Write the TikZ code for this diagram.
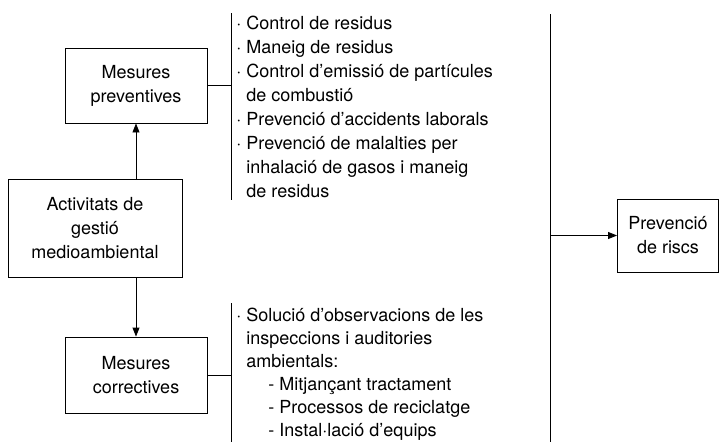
\documentclass[tikz,border=0pt]{standalone}
\usepackage{fontspec}
\setmainfont{TeX Gyre Heros}
\usetikzlibrary{arrows.meta}
\tikzset{
  boxnode/.style={draw,line width=0.9pt,align=center,inner sep=0pt},
  listtext/.style={anchor=north west,align=left,inner sep=0pt},
}
\begin{document}
\begin{tikzpicture}[x=1pt,y=-1pt,line width=0.9pt,>={Triangle[length=9pt,width=7pt]},
    font=\fontsize{18}{24}\selectfont]
    \useasboundingbox (0,0) rectangle (719,442);
    % boxes
    \node[boxnode,minimum width=142pt,minimum height=75pt] (prev) at (136,85.5) {Mesures\\preventives};
    \node[boxnode,minimum width=174pt,minimum height=98pt] (act) at (95,228) {Activitats de\\gestió\\medioambiental};
    \node[boxnode,minimum width=142pt,minimum height=76pt] (corr) at (136,375) {Mesures\\correctives};
    \node[boxnode,minimum width=101pt,minimum height=73pt] (risc) at (668,235.5) {Prevenció\\de riscs};
    % bracket lines
    \coordinate (ptop) at (231,13);
    \coordinate (pbot) at (231,200);
    \coordinate (ctop) at (231,303);
    \coordinate (cbot) at (231,442);
    \coordinate (rtop) at (550,14);
    \coordinate (rbot) at (550,442);
    \draw (ptop) -- (pbot);
    \draw (ctop) -- (cbot);
    \draw (rtop) -- (rbot);
    % connectors
    \draw[->] (act.north -| prev.south) -- (prev.south);
    \draw[->] (act.south -| corr.north) -- (corr.north);
    \draw (prev.east) -- (prev.east -| ptop);
    \draw (corr.east) -- (corr.east -| ctop);
    \draw[->] (risc.west -| rtop) -- (risc.west);
    % lists
    \node[listtext] (prevlist) at (236,16) {· Control de residus\\
      · Maneig de residus\\
      · Control d’emissió de partícules\\
      \phantom{· }de combustió\\
      · Prevenció d’accidents laborals\\
      · Prevenció de malalties per\\
      \phantom{· }inhalació de gasos i maneig\\
      \phantom{· }de residus};
    \node[listtext,font=\fontsize{18}{23}\selectfont] (corrlist) at (236,308) {· Solució d’observacions de les\\
      \phantom{· }inspeccions i auditories\\
      \phantom{· }ambientals:\\
      \hspace*{32pt}- Mitjançant tractament\\
      \hspace*{32pt}- Processos de reciclatge\\
      \hspace*{32pt}- Instal·lació d’equips};
\end{tikzpicture}
\end{document}
